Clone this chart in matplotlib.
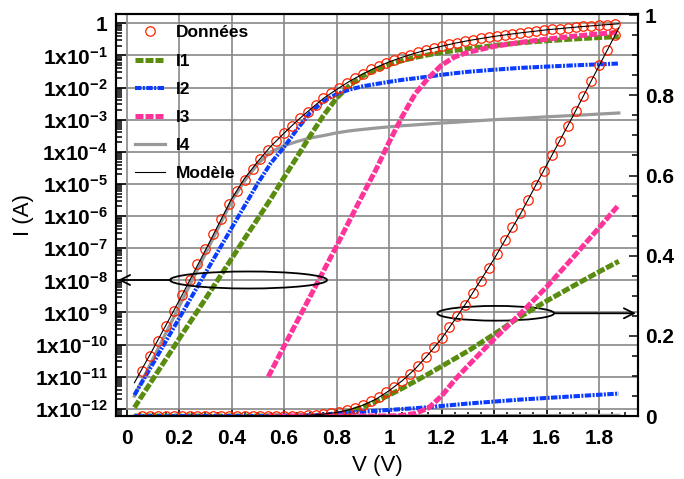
import matplotlib
matplotlib.use("Agg")
import matplotlib.pyplot as plt
import numpy as np
from matplotlib.patches import Ellipse
from matplotlib.ticker import MultipleLocator, LogLocator, FuncFormatter, NullFormatter

plt.rcParams['font.family'] = ['Liberation Sans', 'DejaVu Sans']
plt.rcParams['mathtext.fontset'] = 'custom'
plt.rcParams['mathtext.bf'] = 'Liberation Sans:bold'
plt.rcParams['mathtext.rm'] = 'Liberation Sans'

# measured points (V, A)
v_data = [0.06, 0.09, 0.12, 0.15, 0.18, 0.21, 0.24, 0.27, 0.30, 0.33,
          0.36, 0.39, 0.42, 0.45, 0.48, 0.51, 0.54, 0.57, 0.60, 0.63,
          0.66, 0.69, 0.72, 0.75, 0.78, 0.81, 0.84, 0.87, 0.90, 0.93,
          0.96, 0.99, 1.02, 1.05, 1.08, 1.11, 1.14, 1.17, 1.20, 1.23,
          1.26, 1.29, 1.32, 1.35, 1.38, 1.41, 1.44, 1.47, 1.50, 1.53,
          1.56, 1.59, 1.62, 1.65, 1.68, 1.71, 1.74, 1.77, 1.80, 1.83, 1.86]
i_data = [1.5e-11, 4.4e-11, 1.3e-10, 3.7e-10, 1.1e-9, 3.4e-9, 1.05e-8, 3.2e-8, 9.5e-8, 2.8e-7,
          8.3e-7, 2.3e-6, 6.2e-6, 1.35e-5, 2.9e-5, 5.8e-5, 1.15e-4, 2.1e-4, 3.9e-4, 6.6e-4,
          1.12e-3, 1.8e-3, 2.9e-3, 4.6e-3, 6.8e-3, 9.8e-3, 0.0138, 0.0195, 0.0263, 0.037,
          0.047, 0.059, 0.072, 0.088, 0.106, 0.125, 0.147, 0.171, 0.195, 0.222,
          0.250, 0.278, 0.308, 0.338, 0.370, 0.404, 0.438, 0.472, 0.506, 0.540,
          0.576, 0.612, 0.650, 0.686, 0.723, 0.760, 0.798, 0.837, 0.875, 0.912, 0.951]

# model components
v_fit = [0.03, 0.1, 0.2, 0.3, 0.4, 0.45, 0.5, 0.55, 0.6, 0.65, 0.7, 0.75, 0.8, 0.85, 0.9,
         0.95, 1.0, 1.05, 1.1, 1.15, 1.2, 1.25, 1.3, 1.4, 1.5, 1.6, 1.7, 1.8, 1.875]
i1 = [1.1e-12, 8.3e-12, 1.5e-10, 2.6e-9, 4.7e-8, 2.0e-7, 8.3e-7, 3.5e-6, 1.6e-5, 7.0e-5,
      3.2e-4, 1.35e-3, 4.7e-3, 0.0117, 0.023, 0.036, 0.052, 0.069, 0.087, 0.105,
      0.124, 0.143, 0.162, 0.204, 0.248, 0.287, 0.324, 0.360, 0.386]
i2 = [2.7e-12, 2.5e-11, 6.5e-10, 1.66e-8, 4.2e-7, 2.1e-6, 1.05e-5, 4.5e-5, 1.4e-4, 5.1e-4,
      1.66e-3, 3.7e-3, 6.3e-3, 8.7e-3, 0.011, 0.0129, 0.0151, 0.0174, 0.0195, 0.022,
      0.025, 0.028, 0.031, 0.036, 0.041, 0.045, 0.049, 0.053, 0.056]
i4 = [2.5e-12, 3.5e-11, 1.5e-9, 6.6e-8, 2.9e-6, 1.26e-5, 4.2e-5, 1.0e-4, 1.55e-4, 2.1e-4,
      2.7e-4, 3.2e-4, 3.9e-4, 4.5e-4, 5.0e-4, 5.5e-4, 6.0e-4, 6.5e-4, 6.9e-4, 7.4e-4,
      7.9e-4, 8.3e-4, 8.9e-4, 1.0e-3, 1.1e-3, 1.23e-3, 1.35e-3, 1.5e-3, 1.62e-3]
i_model = [6.5e-12, 7.0e-11, 2.3e-9, 8.5e-8, 3.4e-6, 1.5e-5, 5.0e-5, 1.5e-4, 3.8e-4, 9.3e-4,
           2.1e-3, 4.6e-3, 8.7e-3, 0.0158, 0.0265, 0.042, 0.063, 0.088, 0.118, 0.154,
           0.193, 0.240, 0.288, 0.392, 0.504, 0.626, 0.748, 0.874, 0.968]
v_i3 = [0.54, 0.6, 0.7, 0.8, 0.9, 0.95, 1.0, 1.05, 1.1, 1.15, 1.2, 1.25, 1.3, 1.4, 1.5,
        1.6, 1.7, 1.8, 1.875]
i3 = [1.0e-11, 8.9e-11, 3.2e-9, 1.17e-7, 4.7e-6, 2.8e-5, 2.0e-4, 1.26e-3, 6.5e-3, 0.020,
      0.050, 0.090, 0.125, 0.192, 0.255, 0.322, 0.395, 0.470, 0.527]

c_data = '#FF2200'
c_i1 = '#5A8C10'
c_i2 = '#0A3CFF'
c_i3 = '#FF3399'
c_i4 = '#999999'

fig = plt.figure(figsize=(6.84, 4.79), dpi=100)
ax = fig.add_axes([116 / 684, 1 - 416 / 479, 522 / 684, 402 / 479])
ax2 = ax.twinx()


def draw(a, label=True):
    kw = lambda s: {'label': s} if label else {}
    a.plot(v_fit, i4, color=c_i4, lw=2.3, **kw('I4'))
    a.plot(v_fit, i1, color=c_i1, lw=3.6, dashes=(1.6, 0.4), **kw('I1'))
    a.plot(v_fit, i2, color=c_i2, lw=2.9, dashes=(1.6, 0.35, 0.5, 0.35), **kw('I2'))
    a.plot(v_i3, i3, color=c_i3, lw=3.6, dashes=(1.6, 0.4), **kw('I3'))
    a.plot(v_data, i_data, 'o', ms=6.8, mfc='none', mec=c_data, mew=0.9, **kw('Données'))
    a.plot(v_fit, i_model, color='black', lw=0.8, **kw('Modèle'))


draw(ax)
draw(ax2, label=False)

ax.set_yscale('log')
ax.set_ylim(6.0e-13, 1.95)
ax.set_xlim(-0.04, 1.948)
ax2.set_ylim(0.0, 1.003)

ax.xaxis.set_major_locator(MultipleLocator(0.2))
ax.xaxis.set_minor_locator(MultipleLocator(0.05))
ax.xaxis.set_major_formatter(FuncFormatter(lambda x, p: '%g' % round(x, 2)))
ax.yaxis.set_major_locator(LogLocator(base=10, numticks=20))
ax.yaxis.set_minor_locator(LogLocator(base=10, subs=np.arange(2, 10), numticks=20))
ax.yaxis.set_minor_formatter(NullFormatter())


def logfmt(y, pos):
    e = int(round(np.log10(y)))
    if e == 0:
        return '1'
    return r'$\mathbf{1x10^{%d}}$' % e


ax.yaxis.set_major_formatter(FuncFormatter(logfmt))
ax2.yaxis.set_major_locator(MultipleLocator(0.2))
ax2.yaxis.set_minor_locator(MultipleLocator(0.05))
ax2.yaxis.set_major_formatter(FuncFormatter(lambda y, p: '%g' % round(y, 2)))

ax.grid(True, which='major', color='#888888', lw=1.2)
ax.set_axisbelow(True)

ax.tick_params(axis='x', which='both', direction='in', top=False, width=1.1,
               labelsize=15, pad=9)
ax.tick_params(axis='x', which='major', length=5)
ax.tick_params(axis='x', which='minor', length=3)
ax.tick_params(axis='y', which='both', direction='in', right=False, width=1.1,
               labelsize=15, pad=6)
ax.tick_params(axis='y', which='major', length=7)
ax.tick_params(axis='y', which='minor', length=4.5)
ax2.tick_params(axis='y', which='both', direction='in', width=1.1, labelsize=15, pad=5)
ax2.tick_params(axis='y', which='major', length=6.5)
ax2.tick_params(axis='y', which='minor', length=4)
for lab in ax.get_xticklabels() + ax.get_yticklabels() + ax2.get_yticklabels():
    lab.set_fontweight('bold')

for a in (ax, ax2):
    for s in a.spines.values():
        s.set_linewidth(1.5)

ax.set_xlabel('V (V)', fontsize=16)
ax.set_ylabel('I (A)', fontsize=16)
ax.xaxis.set_label_coords(0.5, -0.098)
ax.yaxis.set_label_coords(-0.158, 0.5)

order = ['Données', 'I1', 'I2', 'I3', 'I4', 'Modèle']
h, l = ax.get_legend_handles_labels()
hl = dict(zip(l, h))
ax.legend([hl[k] for k in order], order, loc='upper left', bbox_to_anchor=(0.036, 0.972),
          frameon=False, prop={'weight': 'bold', 'size': 12.5}, handlelength=1.75,
          handletextpad=0.6, labelspacing=0.75, borderpad=0, borderaxespad=0)

# ellipses and arrows
ax.add_patch(Ellipse((0.2538, 0.3383), 0.3008, 0.0423, transform=ax.transAxes,
                     fill=False, ec='black', lw=1.3, zorder=5))
ax.add_patch(Ellipse((0.7274, 0.2555), 0.2236, 0.0366, transform=ax.transAxes,
                     fill=False, ec='black', lw=1.3, zorder=5))
arrow = dict(arrowstyle='->,head_length=0.6,head_width=0.3', color='black', lw=1.3,
             shrinkA=0, shrinkB=0, mutation_scale=12)
ax.annotate('', xy=(0.004, 0.3383), xytext=(0.1054, 0.3383), xycoords='axes fraction',
            arrowprops=arrow)
ax.annotate('', xy=(0.996, 0.2555), xytext=(0.8392, 0.2555), xycoords='axes fraction',
            arrowprops=arrow)

fig.savefig('out.png', dpi=100)
